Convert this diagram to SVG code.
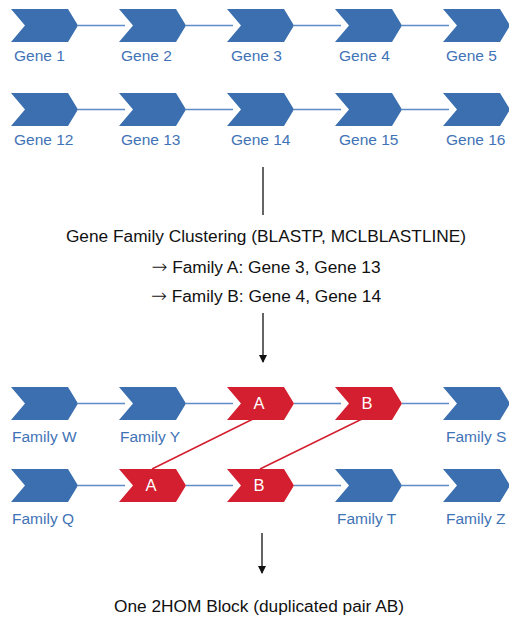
<svg xmlns="http://www.w3.org/2000/svg" width="509" height="622" viewBox="0 0 509 622">
<style>
.blue{fill:#3b6fb0}
.red{fill:#d31f2f}
.lbl{font-family:"Liberation Sans",Arial,sans-serif;font-size:15.5px;fill:#3f73b6}
.ltr{font-family:"Liberation Sans",Arial,sans-serif;font-size:16.5px;fill:#ffffff;text-anchor:middle}
.txt{font-family:"Liberation Sans",Arial,sans-serif;font-size:17.3px;fill:#111111;text-anchor:middle}
.arr{font-family:"DejaVu Sans",sans-serif;font-size:19px;font-weight:200}
.link{stroke:#5d8cc8;stroke-width:1.5;fill:none}
.dup{stroke:#d31f2f;stroke-width:1.5;fill:none}
.flow{stroke:#111111;stroke-width:1.3;fill:none}
</style>
<defs>
<path id="chev" d="M0,0 L57,0 L67,16.5 L57,33 L0,33 L14,16.5 Z"/>
<marker id="ah" markerWidth="8" markerHeight="8" refX="7" refY="4" orient="auto" markerUnits="userSpaceOnUse"><path d="M0,0 L8,4 L0,8 Z" fill="#111111"/></marker>
</defs>
<g id="connectors">
<path class="link" d="M78,25.5 H125 M186,25.5 H233 M294,25.5 H341 M402,25.5 H449"/>
<path class="link" d="M78,109.5 H125 M186,109.5 H233 M294,109.5 H341 M402,109.5 H449"/>
<path class="link" d="M78,403.5 H125 M186,403.5 H233 M294,403.5 H341 M402,403.5 H449"/>
<path class="link" d="M78,485.5 H125 M186,485.5 H233 M294,485.5 H341 M402,485.5 H449"/>
<path class="flow" d="M263,167 V215"/>
<path class="flow" d="M263,313 V362" marker-end="url(#ah)"/>
<path class="flow" d="M262,533 V573" marker-end="url(#ah)"/>
<path class="dup" d="M253,419 L152,469 M362,419 L260,469"/>
</g>
<g id="gene1"><use href="#chev" x="11" y="9" class="blue"/><text class="lbl" x="14" y="61">Gene 1</text></g>
<g id="gene2"><use href="#chev" x="119" y="9" class="blue"/><text class="lbl" x="121" y="61">Gene 2</text></g>
<g id="gene3"><use href="#chev" x="227" y="9" class="blue"/><text class="lbl" x="231" y="61">Gene 3</text></g>
<g id="gene4"><use href="#chev" x="335" y="9" class="blue"/><text class="lbl" x="339" y="61">Gene 4</text></g>
<g id="gene5"><use href="#chev" x="443" y="9" class="blue"/><text class="lbl" x="446" y="61">Gene 5</text></g>
<g id="gene12"><use href="#chev" x="11" y="93" class="blue"/><text class="lbl" x="14" y="145">Gene 12</text></g>
<g id="gene13"><use href="#chev" x="119" y="93" class="blue"/><text class="lbl" x="121" y="145">Gene 13</text></g>
<g id="gene14"><use href="#chev" x="227" y="93" class="blue"/><text class="lbl" x="231" y="145">Gene 14</text></g>
<g id="gene15"><use href="#chev" x="335" y="93" class="blue"/><text class="lbl" x="339" y="145">Gene 15</text></g>
<g id="gene16"><use href="#chev" x="443" y="93" class="blue"/><text class="lbl" x="446" y="145">Gene 16</text></g>
<g id="clustering">
<text class="txt" x="266" y="242">Gene Family Clustering (BLASTP, MCLBLASTLINE)</text>
<text class="txt" x="266" y="273"><tspan class="arr">→</tspan> Family A: Gene 3, Gene 13</text>
<text class="txt" x="266" y="302"><tspan class="arr">→</tspan> Family B: Gene 4, Gene 14</text>
</g>
<g id="famW"><use href="#chev" x="11" y="387" class="blue"/><text class="lbl" x="12" y="442">Family W</text></g>
<g id="famY"><use href="#chev" x="119" y="387" class="blue"/><text class="lbl" x="120" y="442">Family Y</text></g>
<g id="famA1"><use href="#chev" x="227" y="387" class="red"/><text class="ltr" x="259" y="409">A</text></g>
<g id="famB1"><use href="#chev" x="335" y="387" class="red"/><text class="ltr" x="367" y="409">B</text></g>
<g id="famS"><use href="#chev" x="443" y="387" class="blue"/><text class="lbl" x="446" y="442">Family S</text></g>
<g id="famQ"><use href="#chev" x="11" y="469" class="blue"/><text class="lbl" x="12" y="524">Family Q</text></g>
<g id="famA2"><use href="#chev" x="119" y="469" class="red"/><text class="ltr" x="151" y="491">A</text></g>
<g id="famB2"><use href="#chev" x="227" y="469" class="red"/><text class="ltr" x="259" y="491">B</text></g>
<g id="famT"><use href="#chev" x="335" y="469" class="blue"/><text class="lbl" x="337" y="524">Family T</text></g>
<g id="famZ"><use href="#chev" x="443" y="469" class="blue"/><text class="lbl" x="446" y="524">Family Z</text></g>
<g id="result"><text class="txt" x="259" y="612">One 2HOM Block (duplicated pair AB)</text></g>
</svg>
